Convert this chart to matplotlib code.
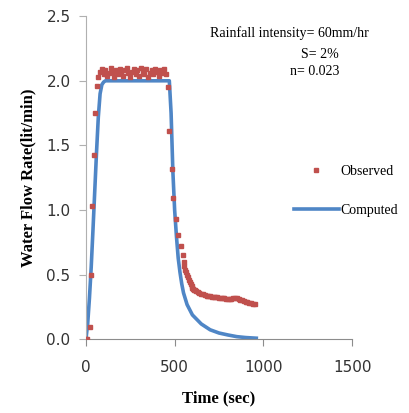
import matplotlib
matplotlib.use('Agg')
import matplotlib.pyplot as plt
from matplotlib.lines import Line2D

# observed flow (sec, lit/min)
obs_t = [0, 5, 25, 30, 35, 45, 50, 60,
         70, 80, 90, 100, 110, 120, 130, 140, 150, 160, 170, 180, 190, 200,
         210, 220, 230, 240, 250, 260, 270, 280, 290, 300, 310, 320, 330, 340,
         350, 360, 370, 380, 390, 400, 410, 420, 430, 440, 450,
         460, 470, 485, 490, 505, 520, 535, 545,
         550, 555, 560, 565, 570, 575, 580, 585, 590, 595, 600, 605, 610, 615,
         620, 630, 640, 650, 660, 670, 680,
         690, 700, 710, 720, 730, 740, 750, 760, 770, 780, 790, 800, 810, 820,
         830, 840, 850, 860, 870, 880, 890, 900, 910, 920, 930, 940, 950]
obs_q = [0.0, 0.0, 0.10, 0.50, 1.03, 1.43, 1.75, 1.96,
         2.03, 2.07, 2.09, 2.05, 2.08, 2.04, 2.06, 2.10, 2.07, 2.03, 2.08, 2.05,
         2.09, 2.06, 2.04, 2.08, 2.10, 2.06, 2.03, 2.07, 2.09, 2.05, 2.08, 2.04,
         2.10, 2.07, 2.05, 2.09, 2.03, 2.06, 2.08, 2.05, 2.09, 2.07, 2.04, 2.08,
         2.06, 2.09, 2.05,
         1.95, 1.61, 1.32, 1.09, 0.935, 0.806, 0.72, 0.65,
         0.60, 0.57, 0.54, 0.52, 0.50, 0.48, 0.46, 0.445, 0.43, 0.415, 0.40,
         0.393, 0.385, 0.38, 0.375, 0.365, 0.36, 0.355,
         0.35, 0.345, 0.34, 0.338, 0.335, 0.33, 0.33, 0.325, 0.325, 0.32, 0.32,
         0.318, 0.317, 0.316, 0.316, 0.315, 0.316, 0.318, 0.318, 0.317, 0.312,
         0.308, 0.303, 0.298, 0.293, 0.29, 0.285, 0.28, 0.276, 0.272]

# computed hydrograph
comp_t = [0, 10, 20, 30, 40, 50, 60, 70, 80, 90, 100, 110, 470, 480, 490,
          500, 510, 520, 530, 540, 550, 570, 600, 650, 700, 750, 800, 850,
          900, 960]
comp_q = [0.0, 0.12, 0.32, 0.56, 0.85, 1.15, 1.45, 1.72, 1.90, 1.97, 1.99,
          2.0, 2.0, 1.75, 1.30, 1.00, 0.80, 0.63, 0.52, 0.43, 0.36, 0.27,
          0.19, 0.12, 0.075, 0.05, 0.035, 0.022, 0.015, 0.01]

red = '#c0504d'
blue = '#4f86c6'
serif = 'Liberation Serif'

fig = plt.figure(figsize=(4.09, 4.13), dpi=100)
ax = fig.add_axes([0.210, 0.178, 0.651, 0.783])

ax.plot(comp_t, comp_q, color=blue, lw=2.6, zorder=2)
ax.plot(obs_t, obs_q, 's', color=red, ms=3.5, mec=red, zorder=3)

ax.set_xlim(0, 1500)
ax.set_ylim(0, 2.5)
ax.set_xticks([0, 500, 1000, 1500])
ax.set_yticks([0.0, 0.5, 1.0, 1.5, 2.0, 2.5])
ax.set_yticklabels(['0.0', '0.5', '1.0', '1.5', '2.0', '2.5'])
for s in ['top', 'right']:
    ax.spines[s].set_visible(False)
ax.spines['left'].set_color('#b0b0b0')
ax.spines['bottom'].set_color('#8c8c8c')
ax.tick_params(axis='both', direction='out', length=5, color='#8c8c8c',
               labelsize=11, labelcolor='#333333', pad=6)
ax.tick_params(axis='x', pad=10)
ax.tick_params(axis='y', color='#b0b0b0')

ax.set_xlabel('Time (sec)', family=serif, fontweight='bold', fontsize=12,
              labelpad=11)
ax.set_ylabel('Water Flow Rate(lit/min)', family=serif, fontweight='bold',
              fontsize=12, labelpad=7)

ax.text(0.465, 0.936, 'Rainfall intensity= 60mm/hr', transform=ax.transAxes,
        family=serif, fontsize=10)
ax.text(0.88, 0.870, 'S= 2%', transform=ax.transAxes, family=serif,
        fontsize=10, ha='center')
ax.text(0.86, 0.818, 'n= 0.023', transform=ax.transAxes, family=serif,
        fontsize=10, ha='center')

handles = [Line2D([], [], ls='none', marker='s', color=red, ms=3.5),
           Line2D([], [], color=blue, lw=2.6)]
leg = ax.legend(handles, ['Observed', 'Computed'], loc='center left',
                bbox_to_anchor=(0.735, 0.46), frameon=False,
                prop={'family': serif, 'size': 10}, handlelength=3.2,
                handletextpad=0.1, labelspacing=1.9)

fig.savefig('out.png', dpi=100)
